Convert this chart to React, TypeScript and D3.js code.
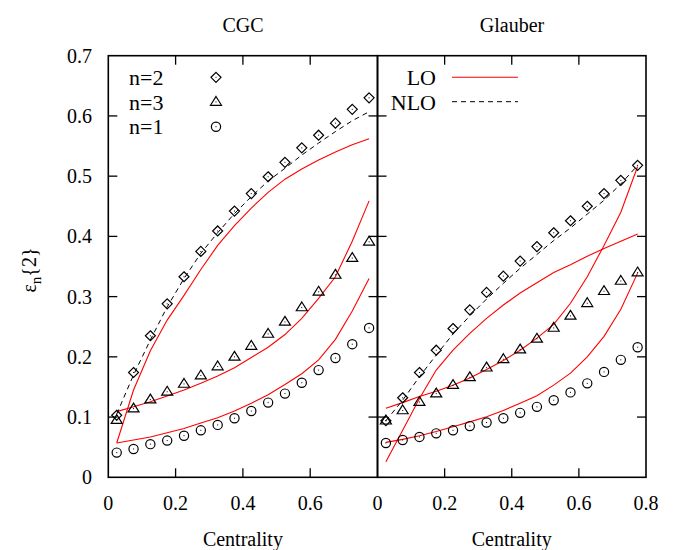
import React from 'react';
import * as d3 from 'd3';

// centrality bin centres (shared by every series)
const centrality = [0.025, 0.075, 0.125, 0.175, 0.225, 0.275, 0.325, 0.375, 0.425, 0.475, 0.525, 0.575, 0.625, 0.675, 0.725, 0.775];

// CGC panel
const cgcN2 = [0.103, 0.174, 0.235, 0.288, 0.333, 0.375, 0.409, 0.442, 0.471, 0.499, 0.523, 0.547, 0.568, 0.588, 0.611, 0.630];
const cgcN3 = [0.095, 0.114, 0.129, 0.142, 0.155, 0.169, 0.184, 0.200, 0.218, 0.238, 0.258, 0.282, 0.308, 0.336, 0.364, 0.391];
const cgcN1 = [0.041, 0.047, 0.055, 0.061, 0.069, 0.078, 0.087, 0.098, 0.110, 0.124, 0.139, 0.157, 0.178, 0.198, 0.221, 0.248];
const cgcLoN2 = [0.057, 0.145, 0.210, 0.261, 0.302, 0.345, 0.385, 0.418, 0.447, 0.473, 0.495, 0.512, 0.527, 0.540, 0.552, 0.562];
const cgcLoN3 = [0.109, 0.117, 0.1255, 0.135, 0.145, 0.156, 0.168, 0.182, 0.199, 0.216, 0.237, 0.264, 0.297, 0.333, 0.392, 0.459];
const cgcLoN1 = [0.057, 0.062, 0.067, 0.074, 0.081, 0.090, 0.099, 0.110, 0.123, 0.137, 0.154, 0.172, 0.195, 0.229, 0.276, 0.330];
const cgcNloN2 = [0.105, 0.170, 0.228, 0.283, 0.330, 0.372, 0.406, 0.438, 0.466, 0.492, 0.513, 0.535, 0.555, 0.574, 0.592, 0.607];

// Glauber panel
const glN2 = [0.094, 0.132, 0.174, 0.211, 0.247, 0.278, 0.307, 0.334, 0.359, 0.383, 0.406, 0.426, 0.450, 0.471, 0.493, 0.518];
const glN3 = [0.094, 0.111, 0.125, 0.139, 0.153, 0.166, 0.182, 0.196, 0.212, 0.230, 0.248, 0.268, 0.289, 0.309, 0.326, 0.340];
const glN1 = [0.057, 0.062, 0.067, 0.073, 0.078, 0.085, 0.091, 0.098, 0.107, 0.117, 0.128, 0.141, 0.156, 0.175, 0.195, 0.216];
const glLoN2 = [0.026, 0.078, 0.131, 0.178, 0.211, 0.239, 0.264, 0.286, 0.306, 0.323, 0.340, 0.353, 0.367, 0.380, 0.392, 0.404];
const glLoN3 = [0.1145, 0.124, 0.134, 0.143, 0.153, 0.165, 0.179, 0.194, 0.211, 0.231, 0.254, 0.289, 0.333, 0.385, 0.440, 0.516];
const glLoN1 = [0.058, 0.063, 0.069, 0.076, 0.084, 0.092, 0.1006, 0.111, 0.123, 0.1355, 0.153, 0.173, 0.200, 0.234, 0.279, 0.339];
const glNloN2 = [0.094, 0.128, 0.167, 0.203, 0.238, 0.268, 0.296, 0.322, 0.347, 0.370, 0.393, 0.414, 0.437, 0.460, 0.487, 0.518];

const yTicks = [0, 0.1, 0.2, 0.3, 0.4, 0.5, 0.6, 0.7];
const leftXTicks = [0, 0.2, 0.4, 0.6];
const rightXTicks = [0, 0.2, 0.4, 0.6, 0.8];
const innerXTicks = [0.2, 0.4, 0.6];
const innerYTicks = [0.1, 0.2, 0.3, 0.4, 0.5, 0.6];

const W = 680;
const H = 550;
const font = 'Liberation Serif, Times New Roman, Times, DejaVu Serif, serif';
const red = '#ff0000';

const y = d3.scaleLinear().domain([0, 0.7]).range([477.3, 55.7]);
const xLeft = d3.scaleLinear().domain([0, 0.8]).range([108.3, 377.5]);
const xRight = d3.scaleLinear().domain([0, 0.8]).range([377.5, 646]);

type Scale = d3.ScaleLinear<number, number>;

function Marker({ kind, cx, cy }: { kind: string; cx: number; cy: number }) {
  const s = { fill: 'none', stroke: '#000', strokeWidth: 1.2 };
  let shape;
  if (kind === 'diamond') {
    const r = 5;
    shape = <path d={`M${cx},${cy - r}L${cx + r},${cy}L${cx},${cy + r}L${cx - r},${cy}Z`} {...s} />;
  } else if (kind === 'triangle') {
    const r = 5.5;
    shape = <path d={`M${cx},${cy - r}L${cx + r},${cy + r * 0.6}L${cx - r},${cy + r * 0.6}Z`} {...s} />;
  } else {
    shape = <circle cx={cx} cy={cy} r={4.6} {...s} />;
  }
  return (
    <g>
      {shape}
      <rect x={cx - 0.5} y={cy - 0.5} width={1} height={1} fill="#000" />
    </g>
  );
}

function Panel({ x, n2, n3, n1, lo2, lo3, lo1, nlo2, xTicks }: any) {
  const line = d3
    .line<number>()
    .x((_, i) => x(centrality[i]))
    .y((d) => y(d));
  const [x0, x1] = x.range();
  const tick = 9;
  return (
    <g>
      {/* LO curves */}
      {[lo2, lo3, lo1].map((s: number[], i: number) => (
        <path key={'lo' + i} d={line(s) || ''} fill="none" stroke={red} strokeWidth={1.1} />
      ))}
      {/* NLO */}
      <path d={line(nlo2) || ''} fill="none" stroke="#000" strokeWidth={1} strokeDasharray="5,4" />
      {/* points */}
      {n2.map((v: number, i: number) => (
        <Marker key={'d' + i} kind="diamond" cx={x(centrality[i])} cy={y(v)} />
      ))}
      {n3.map((v: number, i: number) => (
        <Marker key={'t' + i} kind="triangle" cx={x(centrality[i])} cy={y(v)} />
      ))}
      {n1.map((v: number, i: number) => (
        <Marker key={'c' + i} kind="circle" cx={x(centrality[i])} cy={y(v)} />
      ))}
      {/* inward ticks */}
      {innerXTicks.map((t) => (
        <g key={'xt' + t} stroke="#000" strokeWidth={1.3}>
          <line x1={x(t)} x2={x(t)} y1={y(0)} y2={y(0) - tick} />
          <line x1={x(t)} x2={x(t)} y1={y(0.7)} y2={y(0.7) + tick} />
        </g>
      ))}
      {innerYTicks.map((t) => (
        <g key={'yt' + t} stroke="#000" strokeWidth={1.3}>
          <line x1={x0} x2={x0 + tick} y1={y(t)} y2={y(t)} />
          <line x1={x1} x2={x1 - tick} y1={y(t)} y2={y(t)} />
        </g>
      ))}
      <rect x={x0} y={y(0.7)} width={x1 - x0} height={y(0) - y(0.7)} fill="none" stroke="#000" strokeWidth={1.6} />
      {xTicks.map((t: number) => (
        <text key={'xl' + t} x={x(t)} y={510} textAnchor="middle" fontSize={20} fontFamily={font}>
          {t}
        </text>
      ))}
      <text x={(x0 + x1) / 2} y={546} textAnchor="middle" fontSize={20} fontFamily={font}>
        Centrality
      </text>
    </g>
  );
}

export default function App() {
  return (
    <svg width={W} height={H} style={{ display: 'block', position: 'absolute', left: 0, top: 0, background: '#fff' }}>
      <rect width={W} height={H} fill="#fff" />
      <text x={243} y={32} textAnchor="middle" fontSize={20} fontFamily={font}>CGC</text>
      <text x={512} y={32} textAnchor="middle" fontSize={20} fontFamily={font}>Glauber</text>
      {yTicks.map((t) => (
        <text key={t} x={92} y={y(t) + 7} textAnchor="end" fontSize={20} fontFamily={font}>
          {t}
        </text>
      ))}
      <text transform="translate(36,270) rotate(-90)" textAnchor="middle" fontSize={20} fontFamily={font}>
        {'ε'}
        <tspan fontSize={15} dy={5}>n</tspan>
        <tspan dy={-5}>{'{2}'}</tspan>
      </text>
      <Panel x={xLeft as Scale} n2={cgcN2} n3={cgcN3} n1={cgcN1} lo2={cgcLoN2} lo3={cgcLoN3} lo1={cgcLoN1} nlo2={cgcNloN2} xTicks={leftXTicks} />
      <Panel x={xRight as Scale} n2={glN2} n3={glN3} n1={glN1} lo2={glLoN2} lo3={glLoN3} lo1={glLoN1} nlo2={glNloN2} xTicks={rightXTicks} />
      {/* legend, CGC panel */}
      {['n=2', 'n=3', 'n=1'].map((lab, i) => (
        <g key={lab}>
          <text x={129} y={85 + i * 24.5} fontSize={22} fontFamily={font}>{lab}</text>
          <Marker kind={['diamond', 'triangle', 'circle'][i]} cx={216} cy={77.3 + i * 24.7} />
        </g>
      ))}
      {/* legend, Glauber panel */}
      <text x={436} y={85} textAnchor="end" fontSize={22} fontFamily={font}>LO</text>
      <line x1={452} x2={518} y1={77.3} y2={77.3} stroke={red} strokeWidth={1.1} />
      <text x={436} y={109.5} textAnchor="end" fontSize={22} fontFamily={font}>NLO</text>
      <line x1={452} x2={518} y1={101.7} y2={101.7} stroke="#000" strokeWidth={1} strokeDasharray="5,4" />
    </svg>
  );
}
